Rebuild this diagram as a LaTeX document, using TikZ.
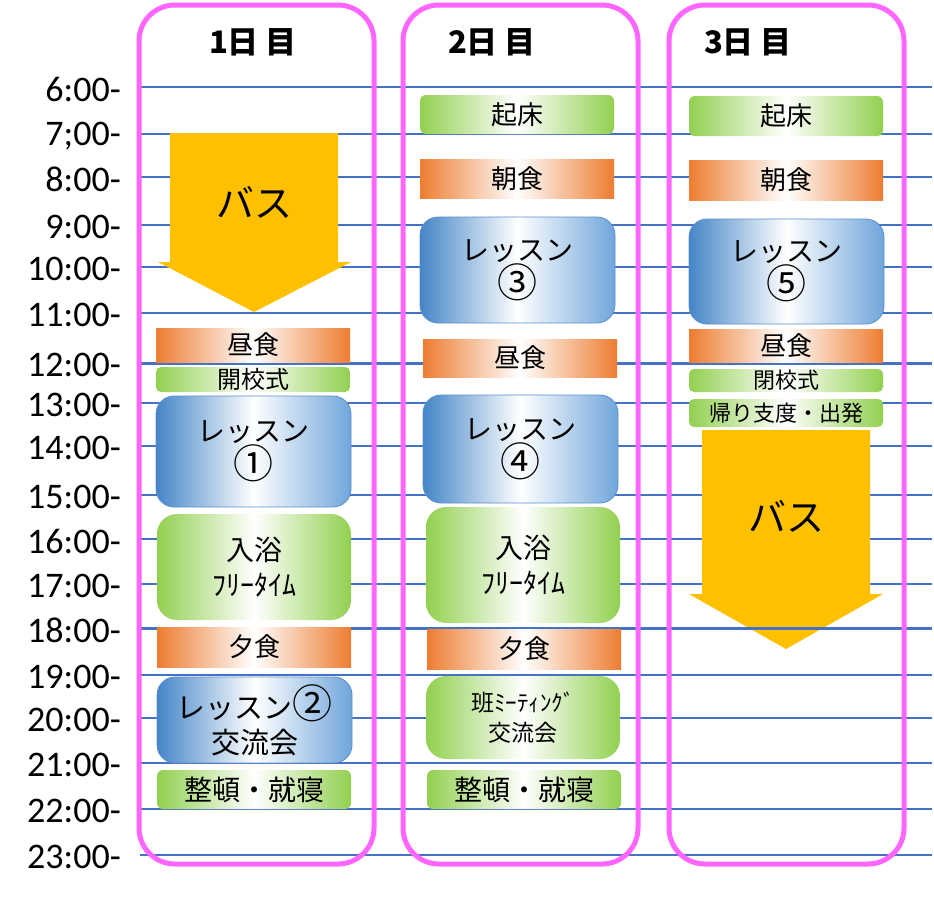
\documentclass[tikz,border=0pt]{standalone}
\usepackage{fontspec}
\setmainfont{Noto Sans CJK JP}
\newfontfamily\timefont{Carlito}
\usetikzlibrary{positioning}

\definecolor{mealor}{HTML}{ED7D31}
\definecolor{actgr}{HTML}{92D050}
\definecolor{lesl}{HTML}{4485C7}
\definecolor{lesr}{HTML}{70A5DB}
\definecolor{lesline}{HTML}{5B8FCC}
\definecolor{gridbl}{HTML}{4472C4}
\definecolor{framepk}{HTML}{FF66FF}
\definecolor{busyl}{HTML}{FFC000}

\newcommand{\circnum}[1]{{\fontsize{40}{31}\selectfont #1}}

\tikzset{
  wh/.style 2 args={minimum width=#1,minimum height=#2},
  slot/.style={inner sep=0pt,align=center,font=\fontsize{26}{30}\selectfont},
  meal/.style={slot,left color=mealor,right color=mealor,middle color=white},
  act/.style={slot,rounded corners=6,left color=actgr,right color=actgr,middle color=white},
  bigact/.style={act,rounded corners=20,font=\fontsize{28}{35}\selectfont},
  lesson/.style={slot,rounded corners=18,draw=lesline,line width=0.8,
    left color=lesl,right color=lesr,middle color=white,font=\fontsize{28}{32}\selectfont},
  timelabel/.style={anchor=east,inner sep=0pt,font=\timefont\fontsize{36}{36}\selectfont},
  daytitle/.style={inner sep=0pt,font=\bfseries\fontsize{31}{31}\selectfont},
  bustext/.style={inner sep=0pt,font=\fontsize{38}{38}\selectfont},
  grid/.style={gridbl,line width=1.2},
  gridthick/.style={gridbl,line width=3},
  frame/.style={framepk,line width=5,rounded corners=36},
  bus/.style={fill=busyl}
}

\begin{document}
\begin{tikzpicture}[x=1pt,y=-1pt]
\useasboundingbox (0,0) rectangle (934,921);

\foreach \y/\t in {87/6:00-,134/7;00-,177/8:00-,225/9:00-,267/10:00-,313/11:00-,
    363/12:00-,403/13:00-,446/14:00-,495/15:00-,539/16:00-,584/17:00-,628/18:00-,
    675/19:00-,718/20:00-,763/21:00-,809/22:00-,855/23:00-}{
  \draw[grid] (140,\y) -- (932,\y);
  \node[timelabel] (t\y) at (121,\y+2) {\t};
}

\fill[bus] (170,133) -- (338,133) -- (338,262) -- (351,262) -- (254,312) -- (158,262) -- (170,262) -- cycle;
\fill[bus] (702,430) -- (870,430) -- (870,594) -- (883,594) -- (786,649) -- (689,594) -- (702,594) -- cycle;

\draw[gridthick] (140,363) -- (932,363);
\draw[gridthick] (140,628) -- (932,628);

\draw[frame] (139,5) rectangle (374,864);
\draw[frame] (403,5) rectangle (638,864);
\draw[frame] (669,5) rectangle (904,864);

\node[daytitle] (day1) at (253,42) {1日 目};
\node[daytitle] (day2) at (492,42) {2日 目};
\node[daytitle] (day3) at (748,42) {3日 目};

\node[bustext] (bus1) at (254,202) {バス};
\node[bustext] (bus3) at (786,516) {バス};

\node[meal,wh={194}{34}] (d1lunch) at (253,345) {昼食};
\node[act,wh={194}{25},rounded corners=5,font=\fontsize{24}{24}\selectfont] (d1open) at (253,379.5) {開校式};
\node[lesson,wh={195}{111}] (d1les) at (253.5,451.5) {レッスン\\\circnum{①}};
\node[bigact,wh={194}{106}] (d1bath) at (254,567) {入浴\\ﾌﾘｰﾀｲﾑ};
\node[meal,wh={194}{40}] (d1dinner) at (254,647) {夕食};
\node[lesson,wh={195}{86},font=\fontsize{29}{35}\selectfont] (d1les2) at (254.5,720) {レッスン\circnum{②}\\交流会};
\node[act,wh={194}{39},font=\fontsize{28}{28}\selectfont] (d1sleep) at (254,789.5) {整頓・就寝};

\node[act,wh={194}{39}] (d2wake) at (517,114.5) {起床};
\node[meal,wh={194}{39}] (d2bfast) at (517,178.5) {朝食};
\node[lesson,wh={195}{106}] (d2les) at (517.5,270) {レッスン\\\circnum{③}};
\node[meal,wh={194}{38}] (d2lunch) at (520,358) {昼食};
\node[lesson,wh={195}{108}] (d2les2) at (520.5,449) {レッスン\\\circnum{④}};
\node[bigact,wh={194}{116}] (d2bath) at (523,565) {入浴\\ﾌﾘｰﾀｲﾑ};
\node[meal,wh={194}{40}] (d2dinner) at (524,649) {夕食};
\node[bigact,wh={194}{83},font=\fontsize{23}{30}\selectfont] (d2meet) at (523,717.5) {班ﾐｰﾃｨﾝｸﾞ\\交流会};
\node[act,wh={194}{39},font=\fontsize{28}{28}\selectfont] (d2sleep) at (524,789.5) {整頓・就寝};

\node[act,wh={194}{40}] (d3wake) at (786,116) {起床};
\node[meal,wh={194}{40}] (d3bfast) at (786,180) {朝食};
\node[lesson,wh={195}{105}] (d3les) at (786.5,271.5) {レッスン\\\circnum{⑤}};
\node[meal,wh={194}{33}] (d3lunch) at (786,345.5) {昼食};
\node[act,wh={194}{23},rounded corners=5,font=\fontsize{22}{22}\selectfont] (d3close) at (786,380.5) {閉校式};
\node[act,wh={194}{28},rounded corners=5,font=\fontsize{22}{22}\selectfont] (d3leave) at (786,413) {帰り支度・出発};
\end{tikzpicture}
\end{document}
